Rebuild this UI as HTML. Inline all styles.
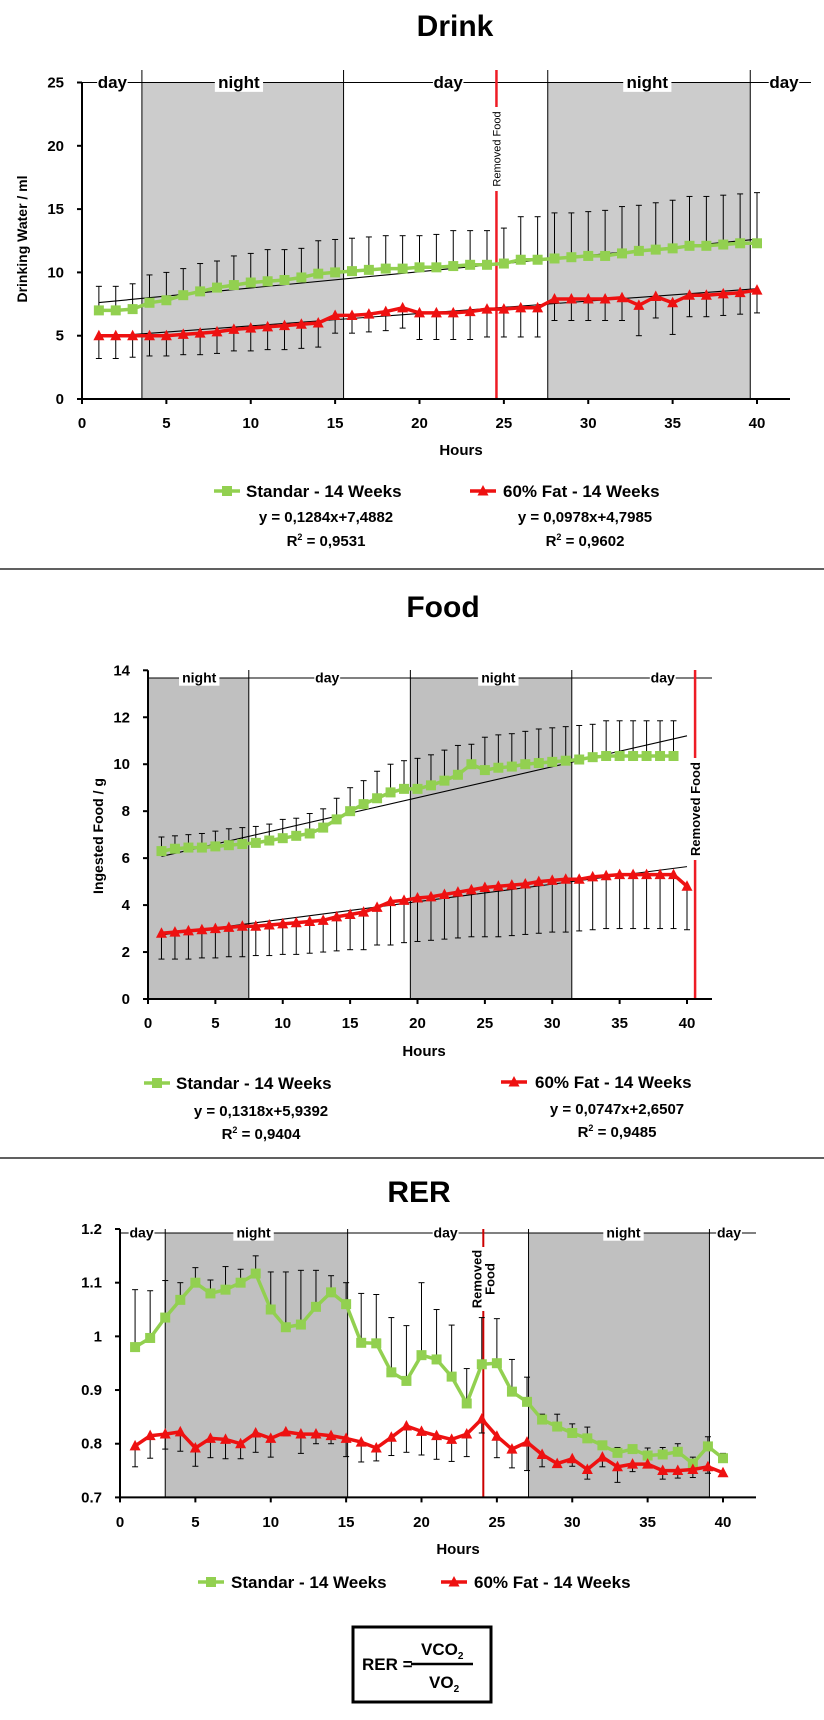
<!DOCTYPE html>
<html><head><meta charset="utf-8"><style>
html,body{margin:0;padding:0;background:#fff}
svg{display:block}
text{font-family:"Liberation Sans",sans-serif}
</style></head><body>
<svg id="fig" width="824" height="1720" viewBox="0 0 824 1720" xmlns="http://www.w3.org/2000/svg">
<rect x="0" y="0" width="824" height="1720" fill="#fff"/>
<line x1="0" y1="569" x2="824" y2="569" stroke="#000" stroke-width="1.3"/>
<line x1="0" y1="1158" x2="824" y2="1158" stroke="#000" stroke-width="1.3"/>
<g>
<rect x="353" y="1627" width="138" height="75" fill="#fff" stroke="#000" stroke-width="3"/>
<text x="362" y="1670" font-size="17" font-weight="bold">RER =</text>
<line x1="411" y1="1664" x2="473" y2="1664" stroke="#000" stroke-width="2.5"/>
<text x="421" y="1655" font-size="17" font-weight="bold">VCO<tspan font-size="10" dy="4">2</tspan></text>
<text x="429" y="1688" font-size="17" font-weight="bold">VO<tspan font-size="10" dy="4">2</tspan></text>
</g>
</svg>
<script>
const hours40 = [1,2,3,4,5,6,7,8,9,10,11,12,13,14,15,16,17,18,19,20,21,22,23,24,25,26,27,28,29,30,31,32,33,34,35,36,37,38,39,40];
const hours39 = [1,2,3,4,5,6,7,8,9,10,11,12,13,14,15,16,17,18,19,20,21,22,23,24,25,26,27,28,29,30,31,32,33,34,35,36,37,38,39];
// Drink
const drinkStd = [7.0,7.0,7.1,7.6,7.8,8.2,8.5,8.8,9.0,9.2,9.3,9.4,9.6,9.9,10.0,10.1,10.2,10.3,10.3,10.4,10.4,10.5,10.6,10.6,10.7,11.0,11.0,11.1,11.2,11.3,11.3,11.5,11.7,11.8,11.9,12.1,12.1,12.2,12.3,12.3];
const drinkStdTop = [8.9,8.9,9.1,9.8,10.0,10.3,10.7,10.9,11.3,11.5,11.8,11.8,11.9,12.5,12.6,12.7,12.8,12.9,12.9,12.9,13.0,13.3,13.3,13.3,13.5,14.4,14.4,14.7,14.7,14.8,14.9,15.2,15.3,15.5,15.7,16.0,16.0,16.1,16.2,16.3];
const drinkFat = [5.0,5.0,5.0,5.0,5.0,5.1,5.2,5.3,5.5,5.6,5.7,5.8,5.9,6.0,6.6,6.6,6.7,6.9,7.2,6.8,6.8,6.8,6.9,7.1,7.1,7.2,7.2,7.9,7.9,7.9,7.9,8.0,7.4,8.1,7.6,8.2,8.2,8.3,8.4,8.6];
const drinkFatBottom = [3.2,3.2,3.3,3.4,3.4,3.5,3.5,3.6,3.8,3.8,3.9,3.9,4.0,4.1,5.2,5.2,5.3,5.4,5.6,4.7,4.7,4.7,4.7,4.9,4.9,4.9,4.9,6.2,6.2,6.2,6.2,6.2,5.0,6.4,5.1,6.5,6.5,6.6,6.7,6.8];
const drinkStdFit = [0.1284, 7.4882];
const drinkFatFit = [0.0978, 4.7985];
const drinkYTicks = [0,5,10,15,20,25];
const drinkXTicks = [0,5,10,15,20,25,30,35,40];
// Food
const foodStd = [6.3,6.4,6.45,6.45,6.5,6.55,6.6,6.65,6.75,6.85,6.95,7.05,7.3,7.65,8.0,8.3,8.55,8.8,8.95,8.95,9.1,9.3,9.55,10.0,9.75,9.85,9.9,10.0,10.05,10.1,10.15,10.2,10.3,10.35,10.35,10.35,10.35,10.35,10.35];
const foodStdTop = [6.9,6.95,7.0,7.05,7.15,7.25,7.3,7.35,7.45,7.65,7.7,7.9,8.1,8.55,9.0,9.3,9.7,10.0,10.15,10.25,10.4,10.6,10.8,10.85,11.15,11.25,11.3,11.4,11.5,11.55,11.6,11.65,11.7,11.85,11.85,11.85,11.85,11.85,11.85];
const foodFat = [2.8,2.85,2.9,2.95,3.0,3.05,3.1,3.1,3.15,3.2,3.25,3.3,3.35,3.5,3.6,3.7,3.9,4.15,4.2,4.3,4.35,4.45,4.55,4.65,4.75,4.8,4.85,4.9,5.0,5.05,5.1,5.1,5.2,5.25,5.3,5.3,5.3,5.3,5.3,4.8];
const foodFatBottom = [1.7,1.7,1.7,1.75,1.75,1.8,1.8,1.85,1.85,1.9,1.9,1.95,2.0,2.05,2.1,2.1,2.3,2.3,2.4,2.45,2.5,2.55,2.6,2.65,2.65,2.65,2.7,2.75,2.8,2.85,2.85,2.9,2.95,3.0,3.0,3.0,3.0,3.0,3.0,2.95];
const foodStdFit = [0.1318, 5.9392];
const foodFatFit = [0.0747, 2.6507];
const foodYTicks = [0,2,4,6,8,10,12,14];
// RER
const rerStd = [0.98,0.997,1.035,1.068,1.1,1.08,1.087,1.1,1.117,1.05,1.017,1.022,1.055,1.082,1.06,0.988,0.987,0.933,0.917,0.965,0.957,0.925,0.875,0.948,0.95,0.897,0.878,0.845,0.832,0.82,0.81,0.797,0.783,0.79,0.778,0.78,0.785,0.763,0.795,0.773];
const rerStdTop = [1.087,1.085,1.104,1.1,1.128,1.105,1.13,1.125,1.15,1.12,1.12,1.123,1.123,1.113,1.1,1.08,1.078,1.035,1.02,1.1,1.05,1.021,0.94,1.035,1.033,0.957,0.924,0.855,0.855,0.837,0.831,0.8,0.793,0.793,0.792,0.793,0.8,0.775,0.813,0.782];
const rerFat = [0.796,0.815,0.818,0.822,0.792,0.81,0.808,0.8,0.82,0.81,0.822,0.818,0.818,0.815,0.81,0.803,0.792,0.812,0.833,0.823,0.815,0.808,0.818,0.846,0.814,0.79,0.803,0.78,0.763,0.772,0.752,0.775,0.757,0.762,0.762,0.75,0.75,0.752,0.757,0.746];
const rerFatBottom = [0.757,0.773,0.79,0.786,0.758,0.774,0.772,0.772,0.784,0.775,0.815,0.782,0.8,0.8,0.776,0.766,0.768,0.778,0.784,0.779,0.771,0.767,0.776,0.82,0.774,0.755,0.75,0.757,0.758,0.758,0.734,0.757,0.728,0.748,0.755,0.734,0.736,0.737,0.745,0.745];
const rerYTicks = [0.7,0.8,0.9,1,1.1,1.2];
const rerYTickLabels = ["0.7","0.8","0.9","1","1.1","1.2"];

const NS = "http://www.w3.org/2000/svg";
const svg = document.getElementById('fig');
function el(tag, attrs, parent){
  const e = document.createElementNS(NS, tag);
  for (const k in attrs) e.setAttribute(k, attrs[k]);
  (parent||svg).appendChild(e);
  return e;
}
function txt(s, attrs, parent){ const t = el('text', attrs, parent); t.textContent = s; return t; }

const GREEN = '#92d050', RED = '#ee1111';

function drawChart(c){
  const g = el('g', {});
  
  
  const X = h => c.x0 + (h - 0) * (c.x40 - c.x0) / 40;
  const Y = v => c.yBot - (v - c.yMin) * (c.yBot - c.yTop) / (c.yMax - c.yMin);
  // title
  const t = txt(c.title, {x:c.titleX, y:c.titleY, 'font-size':30, 'font-weight':'bold', 'text-anchor':'middle'}, g);
  
  
  // night shading
  c.nights.forEach(n => {
    const r = el('rect', {x:X(n[0]), y:c.shadeTop, width:X(n[1])-X(n[0]), height:c.yBot-c.shadeTop, fill:c.shade}, g);
    
    
  });
  // horizontal label line
  el('line', {x1:c.x0, y1:c.shadeTop, x2:c.lineEnd, y2:c.shadeTop, stroke:'#000', 'stroke-width':1}, g);
  c.dividers.forEach(d => {
    const l = el('line', {x1:X(d), y1:c.divTop, x2:X(d), y2:c.yBot, stroke:'#000', 'stroke-width':1}, g);
    
    
  });
  c.labels.forEach(lb => {
    const w = lb[0].length * c.labelFs * 0.52 + 4;
    el('rect', {x:X(lb[1]) - w/2, y:c.shadeTop - c.labelFs*0.6, width:w, height:c.labelFs*1.15, fill:'#fff'}, g);
    const tt = txt(lb[0], {x:X(lb[1]), y:c.shadeTop + c.labelFs*0.33, 'font-size':c.labelFs, 'font-weight':'bold', 'text-anchor':'middle'}, g);
    
    
  });
  // removed food line
  const rl = el('line', {x1:X(c.removedX), y1:c.removedTop, x2:X(c.removedX), y2:c.yBot, stroke:c.removedColor, 'stroke-width':c.removedW}, g);
  
  
  // axes
  el('line', {x1:c.x0, y1:c.yTop, x2:c.x0, y2:c.yBot, stroke:'#000', 'stroke-width':2}, g);
  el('line', {x1:c.x0, y1:c.yBot, x2:c.plotRight, y2:c.yBot, stroke:'#000', 'stroke-width':2}, g);
  c.yTicks.forEach((v,i) => {
    el('line', {x1:c.x0-5, y1:Y(v), x2:c.x0, y2:Y(v), stroke:'#000', 'stroke-width':2}, g);
    const tl = txt(c.yTickLabels ? c.yTickLabels[i] : String(v), {x:c.yLabelRight, y:Y(v)+5, 'font-size':15, 'font-weight':'bold', 'text-anchor':'end'}, g);
    
    
  });
  drinkXTicks.forEach(v => {
    el('line', {x1:X(v), y1:c.yBot, x2:X(v), y2:c.yBot+5, stroke:'#000', 'stroke-width':2}, g);
    const tl = txt(String(v), {x:X(v), y:c.xLabelY+5, 'font-size':15, 'font-weight':'bold', 'text-anchor':'middle'}, g);
    
    
  });
  const xt = txt('Hours', {x:c.hoursX, y:c.hoursY+5, 'font-size':15, 'font-weight':'bold', 'text-anchor':'middle'}, g);
  
  
  if (c.yTitle){
    const yt = txt(c.yTitle, {x:0, y:0, 'font-size':14, 'font-weight':'bold', 'text-anchor':'middle', transform:`translate(${c.yTitleX+5},${c.yTitleY}) rotate(-90)`}, g);
    
    
  }
  // trend lines
  c.fits.forEach(f => {
    const tr = el('line', {x1:X(f[2]), y1:Y(f[0]*f[2]+f[1]), x2:X(f[3]), y2:Y(f[0]*f[3]+f[1]), stroke:'#000', 'stroke-width':1.1}, g);
    
    
  });
  // series
  c.series.forEach(s => {
    s.err.forEach((e,i) => {
      const x = X(s.hours[i]);
      el('line', {x1:x, y1:Y(s.vals[i]), x2:x, y2:Y(e), stroke:'#000', 'stroke-width':1}, g);
      el('line', {x1:x-3, y1:Y(e), x2:x+3, y2:Y(e), stroke:'#000', 'stroke-width':1}, g);
    });
    const pts = s.vals.map((v,i) => X(s.hours[i]).toFixed(1)+','+Y(v).toFixed(1)).join(' ');
    const pl = el('polyline', {points:pts, fill:'none', stroke:s.color, 'stroke-width':3.5, 'stroke-linejoin':'round'}, g);
    
    
    s.vals.forEach((v,i) => {
      const x = X(s.hours[i]), y = Y(v);
      let m;
      if (s.marker === 'square') m = el('rect', {x:x-5, y:y-5, width:10, height:10, fill:s.color}, g);
      else m = el('polygon', {points:`${x},${y-6} ${x-5.5},${y+4.5} ${x+5.5},${y+4.5}`, fill:s.color}, g);
      
      
    });
  });
  // removed food label
  const rf = c.removedLabel;
  const rg = el('g', {transform:`translate(${X(c.removedX)},${rf.cy}) rotate(-90)`}, g);
  
  
  el('rect', {x:-rf.len/2, y:-rf.h/2, width:rf.len, height:rf.h, fill:'#fff'}, rg);
  rf.lines.forEach((ln,i) => {
    txt(ln, {x:0, y:(i - (rf.lines.length-1)/2)*rf.fs + rf.fs*0.36, 'font-size':rf.fs, 'font-weight':rf.bold?'bold':'normal', 'text-anchor':'middle'}, rg);
  });
  // legend
  c.legend.forEach(L => {
    const lg = el('g', {}, g);
    
    
    el('line', {x1:L.mx, y1:L.y, x2:L.mx+26, y2:L.y, stroke:L.color, 'stroke-width':3.5}, lg);
    const cx = L.mx+13;
    if (L.marker === 'square') el('rect', {x:cx-5, y:L.y-5, width:10, height:10, fill:L.color}, lg);
    else el('polygon', {points:`${cx},${L.y-6} ${cx-5.5},${L.y+4.5} ${cx+5.5},${L.y+4.5}`, fill:L.color}, lg);
    txt(L.text, {x:L.tx, y:L.y+6, 'font-size':17, 'font-weight':'bold'}, lg);
    if (L.eq){
      const e1 = txt(L.eq, {x:L.ecx, y:L.ey+5, 'font-size':15, 'font-weight':'bold', 'text-anchor':'middle'}, lg);
      
      const r2 = el('text', {x:L.ecx, y:L.ry+5, 'font-size':15, 'font-weight':'bold', 'text-anchor':'middle'}, lg);
      
      r2.innerHTML = 'R<tspan font-size="9" dy="-6">2</tspan><tspan dy="6"> = ' + L.r2 + '</tspan>';
    }
  });
}

drawChart({
  name:'drink', title:'Drink', titleX:455, titleY:36,
  x0:82, x40:757, plotRight:790, yTop:82.5, yBot:399, yMin:0, yMax:25,
  shadeTop:82.5, shade:'#cccccc', lineEnd:811, divTop:70,
  nights:[[3.55,15.5],[27.6,39.6]], dividers:[3.55,15.5,27.6,39.6],
  labels:[['day',1.8],['night',9.3],['day',21.7],['night',33.5],['day',41.6]], labelFs:17,
  removedX:24.56, removedTop:70, removedColor:'#ee1c25', removedW:2.5,
  removedLabel:{cy:149, len:84, h:12, fs:11, bold:false, lines:['Removed Food']},
  yTicks:drinkYTicks, yLabelRight:64, xLabelY:423, hoursX:461, hoursY:450,
  yTitle:'Drinking Water / ml', yTitleX:22, yTitleY:239,
  fits:[[drinkStdFit[0],drinkStdFit[1],1,40],[drinkFatFit[0],drinkFatFit[1],1,40]],
  series:[
    {name:'standard', hours:hours40, vals:drinkStd, err:drinkStdTop, color:GREEN, marker:'square'},
    {name:'fat', hours:hours40, vals:drinkFat, err:drinkFatBottom, color:RED, marker:'triangle'}
  ],
  legend:[
    {mx:214, y:491, tx:246, text:'Standar - 14 Weeks', color:GREEN, marker:'square', eq:'y = 0,1284x+7,4882', r2:'0,9531', ecx:326, ey:517, ry:541},
    {mx:470, y:491, tx:503, text:'60% Fat - 14 Weeks', color:RED, marker:'triangle', eq:'y = 0,0978x+4,7985', r2:'0,9602', ecx:585, ey:517, ry:541}
  ]
});

drawChart({
  name:'food', title:'Food', titleX:443, titleY:617,
  x0:148, x40:687, plotRight:712, yTop:670.3, yBot:999, yMin:0, yMax:14,
  shadeTop:678, shade:'#c0c0c0', lineEnd:712, divTop:670,
  nights:[[0,7.48],[19.47,31.45]], dividers:[7.48,19.47,31.45],
  labels:[['night',3.8],['day',13.3],['night',26],['day',38.2]], labelFs:14,
  removedX:40.6, removedTop:670, removedColor:'#ee1c25', removedW:2.5,
  removedLabel:{cy:809, len:102, h:14, fs:13, bold:true, lines:['Removed Food']},
  yTicks:foodYTicks, yLabelRight:130, xLabelY:1023, hoursX:424, hoursY:1051,
  yTitle:'Ingested Food / g', yTitleX:98, yTitleY:836,
  fits:[[foodStdFit[0],foodStdFit[1],1,40],[foodFatFit[0],foodFatFit[1],1,40]],
  series:[
    {name:'standard', hours:hours39, vals:foodStd, err:foodStdTop, color:GREEN, marker:'square'},
    {name:'fat', hours:hours40, vals:foodFat, err:foodFatBottom, color:RED, marker:'triangle'}
  ],
  legend:[
    {mx:144, y:1083, tx:176, text:'Standar - 14 Weeks', color:GREEN, marker:'square', eq:'y = 0,1318x+5,9392', r2:'0,9404', ecx:261, ey:1111, ry:1134},
    {mx:501, y:1082, tx:535, text:'60% Fat - 14 Weeks', color:RED, marker:'triangle', eq:'y = 0,0747x+2,6507', r2:'0,9485', ecx:617, ey:1109, ry:1132}
  ]
});

drawChart({
  name:'rer', title:'RER', titleX:419, titleY:1202,
  x0:120, x40:723, plotRight:756, yTop:1229, yBot:1497.4, yMin:0.7, yMax:1.2,
  shadeTop:1233, shade:'#c0c0c0', lineEnd:756, divTop:1229,
  nights:[[3.0,15.1],[27.1,39.1]], dividers:[3.0,15.1,27.1,39.1],
  labels:[['day',1.43],['night',8.86],['day',21.6],['night',33.4],['day',40.4]], labelFs:14,
  removedX:24.1, removedTop:1229, removedColor:'#cc0000', removedW:2,
  removedLabel:{cy:1279, len:64, h:28, fs:13, bold:true, lines:['Removed','Food']},
  yTicks:rerYTicks, yTickLabels:rerYTickLabels, yLabelRight:102, xLabelY:1522, hoursX:458, hoursY:1549,
  yTitle:null,
  fits:[],
  series:[
    {name:'standard', hours:hours40, vals:rerStd, err:rerStdTop, color:GREEN, marker:'square'},
    {name:'fat', hours:hours40, vals:rerFat, err:rerFatBottom, color:RED, marker:'triangle'}
  ],
  legend:[
    {mx:198, y:1582, tx:231, text:'Standar - 14 Weeks', color:GREEN, marker:'square'},
    {mx:441, y:1582, tx:474, text:'60% Fat - 14 Weeks', color:RED, marker:'triangle'}
  ]
});
</script>
</body></html>
